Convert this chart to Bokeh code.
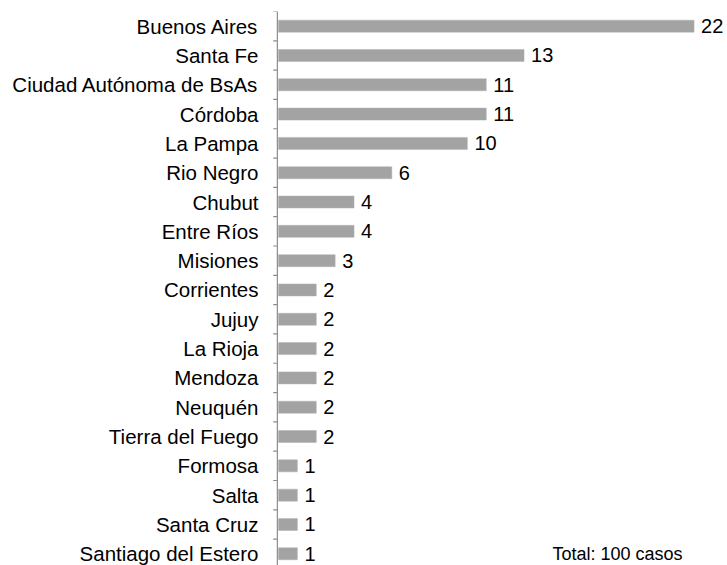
from bokeh.plotting import figure
from bokeh.models import ColumnDataSource, FixedTicker, Range1d, Label, Span
from bokeh.core.properties import value
from bokeh.embed import file_html
from bokeh.resources import INLINE

provincias = ["Buenos Aires", "Santa Fe", "Ciudad Autónoma de BsAs", "Córdoba",
              "La Pampa", "Rio Negro", "Chubut", "Entre Ríos", "Misiones",
              "Corrientes", "Jujuy", "La Rioja", "Mendoza", "Neuquén",
              "Tierra del Fuego", "Formosa", "Salta", "Santa Cruz",
              "Santiago del Estero"]
casos = [22, 13, 11, 11, 10, 6, 4, 4, 3, 2, 2, 2, 2, 2, 2, 1, 1, 1, 1]
total_text = "Total: 100 casos"

FONT = "Liberation Sans"
AXIS_COLOR = "#8c8c8c"
pos = list(range(len(provincias)))
bounds = [i - 0.5 for i in pos] + [len(pos) - 0.5]
src = ColumnDataSource(dict(y=pos, v=casos, lbl=[str(c) for c in casos]))

AXIS_X = -0.06
TICK_LEN = 0.22

p = figure(width=727, height=565, output_backend="svg", toolbar_location=None,
           x_range=Range1d(-0.37, 23.77), y_range=Range1d(18.4, -0.5),
           min_border_left=271, min_border_right=0, min_border_top=11,
           min_border_bottom=0)
p.outline_line_color = None
p.xgrid.visible = False
p.ygrid.visible = False
p.xaxis.visible = False

# axis line and boundary ticks
p.add_layout(Span(location=AXIS_X, dimension="height", line_color=AXIS_COLOR,
                  line_width=1.2))
p.segment(x0=AXIS_X - TICK_LEN, x1=AXIS_X, y0=bounds, y1=bounds,
          line_color=AXIS_COLOR, line_width=1.2)

p.hbar(y="y", left=0, right="v", height=0.41, source=src,
       fill_color="#a3a3a3", line_color="#b0b0b0", line_width=0.5)
p.text(x="v", y="y", text="lbl", source=src, x_offset=7,
       text_font=value(FONT), text_font_size="20px", text_color="#000000",
       text_baseline="middle", text_align="left")

ya = p.yaxis[0]
ya.ticker = FixedTicker(ticks=pos)
ya.major_label_overrides = {float(i): n for i, n in zip(pos, provincias)}
ya.major_tick_line_color = None
ya.minor_tick_line_color = None
ya.major_tick_out = 0
ya.major_tick_in = 0
ya.axis_line_color = None
ya.major_label_standoff = 13
ya.major_label_text_font = FONT
ya.major_label_text_font_size = "20.5px"
ya.major_label_text_color = "#000000"

p.add_layout(Label(x=14.5, y=len(pos) - 1, text=total_text, text_font=FONT,
                   text_font_size="18px", text_color="#000000",
                   text_baseline="middle", text_align="left"))

open("out.html", "w").write(file_html(p, INLINE))
